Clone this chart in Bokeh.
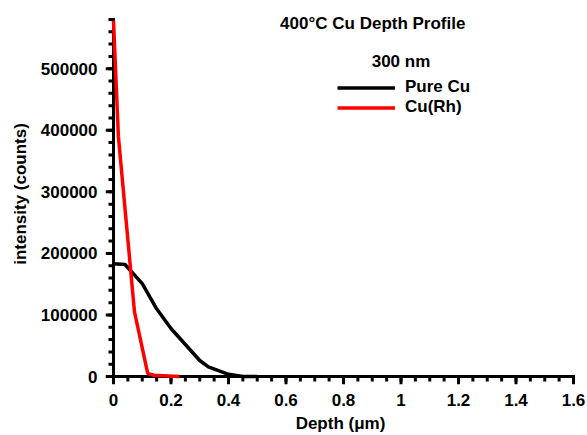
from bokeh.plotting import figure
from bokeh.models import (Range1d, FixedTicker, NumeralTickFormatter, Legend,
                          LegendItem, Label)
from bokeh.embed import file_html
from bokeh.resources import INLINE

# ---- data ----
pure_depth = [0.0, 0.04, 0.1, 0.15, 0.2, 0.25, 0.3, 0.33, 0.4, 0.45, 0.5]
pure_counts = [183000, 182000, 151000, 110000, 78000, 52000, 26000, 15500, 3500, 0, 0]

rh_depth = [0.0, 0.017, 0.073, 0.119, 0.14, 0.229]
rh_counts = [578000, 390000, 105000, 5000, 2000, 0]

x_ticks = [0, 0.2, 0.4, 0.6, 0.8, 1.0, 1.2, 1.4, 1.6]
y_ticks = [0, 100000, 200000, 300000, 400000, 500000]
x_minor_step = 0.05
y_minor_step = 20000
y_top = 580000

title_text = "400°C  Cu Depth Profile"
subtitle_text = "300 nm"
x_title = "Depth (μm)"
y_title = "intensity (counts)"
series_names = ["Pure Cu", "Cu(Rh)"]

FONT = "Liberation Sans"

# pixel scale of the reference
PX_X = 287.5          # px per depth unit
PX_Y = 0.000616       # px per count
MAJ, MIN = 8, 5       # tick lengths in px
TW = 3                # tick width in px

x_lo = x_ticks[0] - MAJ / PX_X
x_hi = x_ticks[-1] + 2 / PX_X
y_lo = y_ticks[0] - MAJ / PX_Y
y_hi = y_top + 16 / PX_Y

p = figure(width=587, height=435, output_backend="svg", toolbar_location=None,
           x_range=Range1d(x_lo, x_hi), y_range=Range1d(y_lo, y_hi),
           min_border_left=105, min_border_right=12, min_border_top=3,
           min_border_bottom=50)
p.xgrid.visible = False
p.ygrid.visible = False
p.outline_line_color = None

x_minor = [round(i * x_minor_step, 3) for i in range(int(round(x_ticks[-1] / x_minor_step)) + 1)]
y_minor = [i * y_minor_step for i in range(int(y_top / y_minor_step) + 1)]

# axis lines
p.segment(x0=[x_ticks[0], x_ticks[0]], y0=[y_ticks[0], y_ticks[0]],
          x1=[x_ticks[-1], x_ticks[0]], y1=[y_ticks[0], y_top],
          line_color="black", line_width=TW, line_cap="square")
# x ticks
p.segment(x0=x_minor, y0=[0] * len(x_minor), x1=x_minor,
          y1=[-MIN / PX_Y] * len(x_minor), line_color="black", line_width=TW)
p.segment(x0=x_ticks, y0=[0] * len(x_ticks), x1=x_ticks,
          y1=[-MAJ / PX_Y] * len(x_ticks), line_color="black", line_width=TW)
# y ticks
p.segment(x0=[0] * len(y_minor), y0=y_minor, x1=[-MIN / PX_X] * len(y_minor),
          y1=y_minor, line_color="black", line_width=TW)
p.segment(x0=[0] * len(y_ticks), y0=y_ticks, x1=[-MAJ / PX_X] * len(y_ticks),
          y1=y_ticks, line_color="black", line_width=TW)

# ---- data lines ----
black = p.line(pure_depth, pure_counts, line_color="black", line_width=3.5)
red = p.line(rh_depth, rh_counts, line_color="#ff0000", line_width=3.5)

# ---- Bokeh axes used for the tick labels and titles ----
p.xaxis.ticker = FixedTicker(ticks=x_ticks, minor_ticks=[])
p.yaxis.ticker = FixedTicker(ticks=y_ticks, minor_ticks=[])
p.xaxis.formatter = NumeralTickFormatter(format="0.[0]")
p.yaxis.formatter = NumeralTickFormatter(format="0")

for ax in (p.xaxis[0], p.yaxis[0]):
    ax.axis_line_color = None
    ax.major_tick_line_color = None
    ax.minor_tick_line_color = None
    ax.major_tick_in = 0
    ax.major_tick_out = 0
    ax.minor_tick_in = 0
    ax.minor_tick_out = 0
    ax.major_label_text_font = FONT
    ax.major_label_text_font_style = "bold"
    ax.major_label_text_font_size = "17px"
    ax.major_label_text_color = "black"
    ax.axis_label_text_font = FONT
    ax.axis_label_text_font_style = "bold"
    ax.axis_label_text_font_size = "17px"
    ax.axis_label_text_color = "black"

p.xaxis.major_label_standoff = 9
p.yaxis.major_label_standoff = 8
p.xaxis.axis_label = x_title
p.xaxis.axis_label_standoff = 5
p.yaxis.axis_label = y_title
p.yaxis.axis_label_standoff = 8

p.add_layout(Label(x=0.91, y=574000, text=title_text, text_align="center",
                   text_baseline="middle", text_font=FONT,
                   text_font_style="bold", text_font_size="17px",
                   text_color="black"))
p.add_layout(Label(x=1.0, y=512500, text=subtitle_text, text_align="center",
                   text_baseline="middle", text_font=FONT,
                   text_font_style="bold", text_font_size="17px",
                   text_color="black"))

legend = Legend(items=[LegendItem(label=series_names[0], renderers=[black]),
                       LegendItem(label=series_names[1], renderers=[red])],
                location=(232, 267), padding=0, margin=0, spacing=0,
                glyph_width=58, glyph_height=19, label_height=19,
                label_standoff=10, border_line_color=None,
                background_fill_alpha=0,
                label_text_font=FONT, label_text_font_style="bold",
                label_text_font_size="17px", label_text_color="black")
p.add_layout(legend)

open("out.html", "w").write(file_html(p, INLINE))
